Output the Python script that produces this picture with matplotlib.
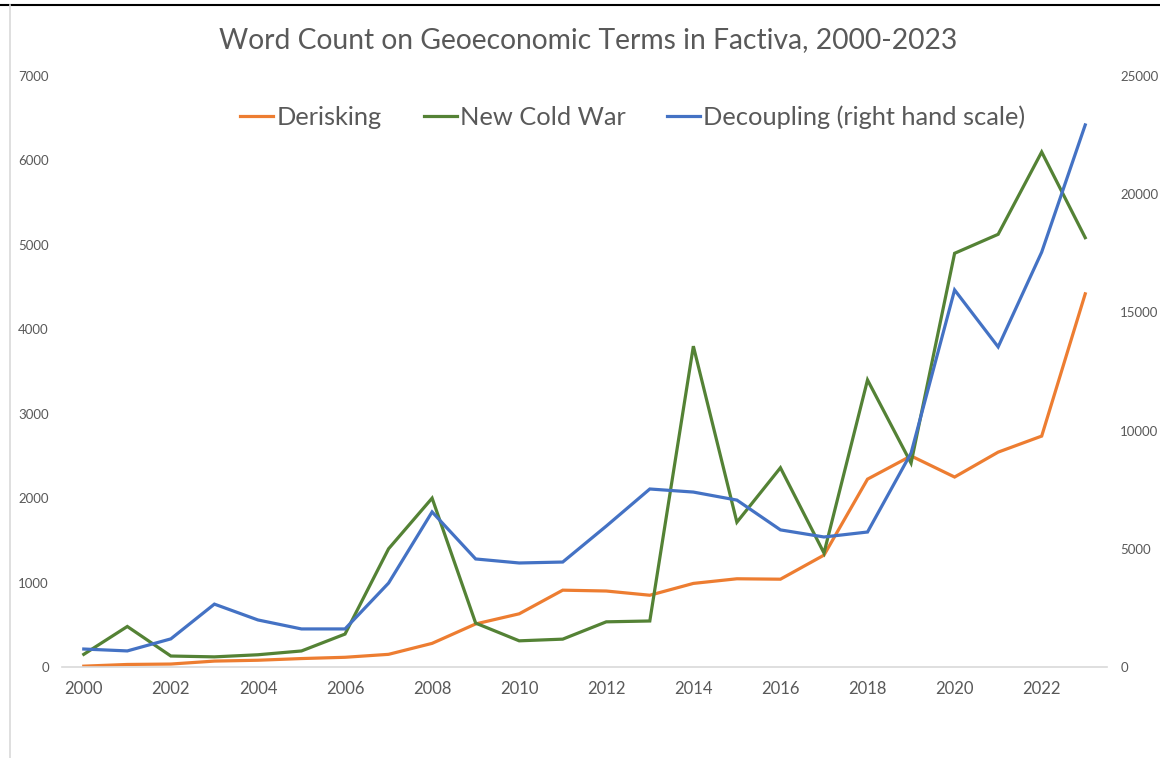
import numpy as np
import matplotlib.pyplot as plt
from matplotlib.lines import Line2D

years = list(range(2000, 2024))

derisking = [10, 30, 35, 70, 80, 100, 115, 150, 280, 510, 630, 910, 900, 850,
             990, 1045, 1040, 1325, 2225, 2500, 2250, 2545, 2735, 4420]
new_cold_war = [150, 480, 130, 120, 145, 190, 390, 1400, 2000, 520, 310, 330, 535, 545,
                3800, 1715, 2360, 1350, 3400, 2415, 4900, 5125, 6100, 5085]
decoupling = [760, 680, 1190, 2660, 1990, 1610, 1610, 3550, 6560, 4570, 4400, 4440, 5960, 7530,
              7400, 7060, 5800, 5500, 5710, 9050, 15950, 13540, 17550, 22930]

left_ticks = list(range(0, 7001, 1000))
right_ticks = list(range(0, 25001, 5000))
x_ticks = list(range(2000, 2023, 2))

ORANGE = "#ED7D31"
GREEN = "#548235"
BLUE = "#4472C4"
GREY_TXT = "#595959"

plt.rcParams["font.family"] = ["Lato", "DejaVu Sans"]

fig = plt.figure(figsize=(11.6, 7.58), dpi=100)
ax = fig.add_axes([62 / 1160, 1 - 667 / 758, (1107 - 62) / 1160, (667 - 76) / 758])
ax2 = ax.twinx()

lw = 2.3
ax.plot(years, derisking, color=ORANGE, lw=lw, solid_joinstyle="miter")
ax.plot(years, new_cold_war, color=GREEN, lw=lw, solid_joinstyle="miter")
ax2.plot(years, decoupling, color=BLUE, lw=lw, solid_joinstyle="miter")

ax.set_xlim(1999.5, 2023.5)
ax.set_ylim(0, 7000)
ax2.set_ylim(0, 25000)
ax.set_yticks(left_ticks)
ax2.set_yticks(right_ticks)
ax.set_xticks(x_ticks)

for a in (ax, ax2):
    for s in a.spines.values():
        s.set_visible(False)
    a.tick_params(length=0, colors=GREY_TXT)
ax.spines["bottom"].set_visible(True)
ax.spines["bottom"].set_color("#d9d9d9")
ax.spines["bottom"].set_linewidth(1.2)
ax.tick_params(axis="y", labelsize=9.5, pad=9.5)
ax2.tick_params(axis="y", labelsize=9.5, pad=9.5)
ax.tick_params(axis="x", labelsize=12, pad=10)

fig.text(588 / 1160, 1 - 40 / 758, "Word Count on Geoeconomic Terms in Factiva, 2000-2023",
         ha="center", va="center", fontsize=20.3, color=GREY_TXT)

handles = [Line2D([], [], color=ORANGE, lw=lw),
           Line2D([], [], color=GREEN, lw=lw),
           Line2D([], [], color=BLUE, lw=lw)]
labels = ["Derisking", "New Cold War", "Decoupling (right hand scale)"]
leg = fig.legend(handles, labels, loc="center", bbox_to_anchor=(633 / 1160, 1 - 117 / 758),
                 ncol=3, frameon=False, fontsize=18.3, handlelength=1.3, handletextpad=0.12,
                 columnspacing=1.65)
for t in leg.get_texts():
    t.set_color(GREY_TXT)

# frame remnants from the original screenshot
fig.add_artist(Line2D([0, 1], [1 - 5 / 758, 1 - 5 / 758], color="black", lw=1.5,
                      transform=fig.transFigure))
fig.add_artist(Line2D([10 / 1160, 10 / 1160], [0, 1 - 5 / 758], color="#d9d9d9", lw=1.2,
                      transform=fig.transFigure))

fig.savefig("out.png", dpi=100)
